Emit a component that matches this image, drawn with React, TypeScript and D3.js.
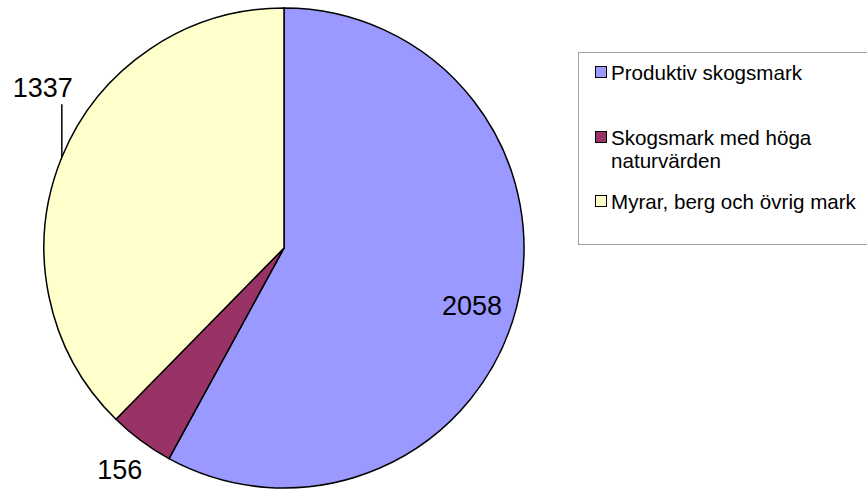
import React from "react";
import * as d3 from "d3";

const categories = ["Produktiv skogsmark", "Skogsmark med höga naturvärden", "Myrar, berg och övrig mark"];
const values = [2058, 156, 1337];
const colors = ["#9999FF", "#993366", "#FFFFCC"];
const legendLines = [["Produktiv skogsmark"], ["Skogsmark med höga", "naturvärden"], ["Myrar, berg och övrig mark"]];

const width = 867;
const height = 490;
const cx = 284;
const cy = 248;
const radius = 240;
const font = "'Liberation Sans', Arial, Helvetica, sans-serif";

export default function App() {
  const pie = d3.pie<number>().sort(null).value((d) => d);
  const arcs = pie(values);
  const arc = d3.arc<d3.PieArcDatum<number>>().innerRadius(0).outerRadius(radius);

  const mid = (a: d3.PieArcDatum<number>) => (a.startAngle + a.endAngle) / 2;
  const at = (a: d3.PieArcDatum<number>, r: number): [number, number] => [
    Math.sin(mid(a)) * r,
    -Math.cos(mid(a)) * r,
  ];

  // label 0 inside, label 1 just outside, label 2 with leader line
  const p0 = at(arcs[0], 194);
  const p1 = at(arcs[1], 276);
  const e2 = at(arcs[2], radius);

  const legendY = [72, 137, 201];

  return (
    <svg width={width} height={height} style={{ position: "absolute", left: 0, top: 0 }} fontFamily={font}>
      <rect width={width} height={height} fill="#fff" />
      <g transform={`translate(${cx},${cy})`}>
        {arcs.map((a, i) => (
          <path key={categories[i]} d={arc(a) ?? ""} fill={colors[i]} stroke="#000" strokeWidth={1.5} />
        ))}
        <text x={p0[0]} y={p0[1] + 10} textAnchor="middle" dominantBaseline="central" fontSize={27}>
          {values[0]}
        </text>
        <text x={p1[0]} y={p1[1]} textAnchor="middle" dominantBaseline="central" fontSize={27}>
          {values[1]}
        </text>
        <line x1={e2[0]} y1={e2[1]} x2={e2[0]} y2={e2[1] - 53} stroke="#000" strokeWidth={1.5} />
        <text x={e2[0] + 11} y={e2[1] - 60} textAnchor="end" fontSize={27}>
          {values[2]}
        </text>
      </g>
      <g>
        <rect x={578.5} y={52.5} width={300} height={192} fill="#fff" stroke="#a0a0a0" />
        {categories.map((c, i) => (
          <g key={c}>
            <rect x={595.5} y={legendY[i] - 5.5} width={11} height={11} fill={colors[i]} stroke="#000" />
            {legendLines[i].map((t, j) => (
              <text key={t} x={611} y={legendY[i] + j * 23} dominantBaseline="central" fontSize={20.6}>
                {t}
              </text>
            ))}
          </g>
        ))}
      </g>
    </svg>
  );
}
